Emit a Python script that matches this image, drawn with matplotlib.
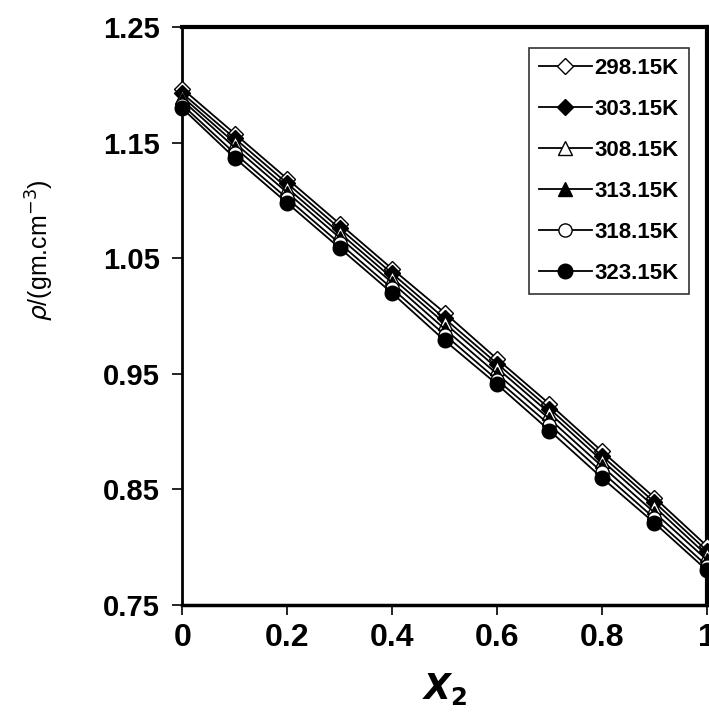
import numpy as np
import matplotlib
matplotlib.use("Agg")
import matplotlib.pyplot as plt

# mole fraction X2
x2 = [0.0, 0.1, 0.2, 0.3, 0.4, 0.5, 0.6, 0.7, 0.8, 0.9, 1.0]

# densities (g/cm3), one list per temperature
rho_29815 = [1.197, 1.158, 1.119, 1.080, 1.041, 1.003, 0.963, 0.924, 0.883, 0.843, 0.801]
rho_30315 = [1.193, 1.154, 1.115, 1.076, 1.037, 0.998, 0.959, 0.920, 0.879, 0.839, 0.797]
rho_30815 = [1.190, 1.150, 1.111, 1.072, 1.033, 0.994, 0.955, 0.916, 0.875, 0.835, 0.793]
rho_31315 = [1.187, 1.146, 1.107, 1.068, 1.029, 0.989, 0.950, 0.911, 0.870, 0.830, 0.789]
rho_31815 = [1.183, 1.141, 1.102, 1.063, 1.024, 0.984, 0.945, 0.906, 0.865, 0.825, 0.784]
rho_32315 = [1.180, 1.137, 1.098, 1.059, 1.020, 0.979, 0.941, 0.901, 0.860, 0.821, 0.780]

labels = ["298.15K", "303.15K", "308.15K", "313.15K", "318.15K", "323.15K"]
series = [rho_29815, rho_30315, rho_30815, rho_31315, rho_31815, rho_32315]

# marker style for each temperature
markers = ["D", "D", "^", "^", "o", "o"]
faces = ["white", "black", "white", "black", "white", "black"]
sizes = [8, 8, 9.5, 9.5, 9.5, 10.5]

plt.rcParams['font.family'] = ['Liberation Sans', 'DejaVu Sans']

fig = plt.figure(figsize=(7.09, 7.21), dpi=100)
ax = fig.add_axes([0.257, 0.161, 0.740, 0.801])

for y, lab, m, fc, ms in zip(series, labels, markers, faces, sizes):
    ax.plot(x2, y, color="black", lw=1.3, marker=m, markersize=ms,
            markerfacecolor=fc, markeredgecolor="black", markeredgewidth=1.0,
            label=lab, clip_on=False, zorder=3)

ax.set_xlim(0, 1)
ax.set_ylim(0.75, 1.25)
ax.set_xticks([0, 0.2, 0.4, 0.6, 0.8, 1.0])
ax.set_xticklabels(["0", "0.2", "0.4", "0.6", "0.8", "1"])
ax.set_yticks([0.75, 0.85, 0.95, 1.05, 1.15, 1.25])
ax.set_yticklabels(["0.75", "0.85", "0.95", "1.05", "1.15", "1.25"])

ax.tick_params(axis="both", direction="out", length=7, width=1.2, color="black")
ax.tick_params(axis="x", labelsize=23, pad=6)
ax.tick_params(axis="y", labelsize=21, pad=9)
for t in ax.get_xticklabels() + ax.get_yticklabels():
    t.set_fontweight("bold")

ax.spines["left"].set_linewidth(2)
ax.spines["bottom"].set_linewidth(2.5)
ax.spines["top"].set_linewidth(3)
ax.spines["right"].set_linewidth(3)

ax.set_xlabel(r"$\mathbfit{X}_\mathbf{2}$", fontsize=25)
ax.xaxis.set_label_coords(0.5, -0.115)
ax.set_ylabel(r"$\rho$/(gm.cm$^{-3}$)", fontsize=18)
ax.yaxis.set_label_coords(-0.24, 0.615)

leg = ax.legend(loc="upper right", bbox_to_anchor=(0.965, 0.965),
                prop={"weight": "bold", "size": 16}, frameon=True, fancybox=False,
                handlelength=2.4, handletextpad=0.1, labelspacing=0.9,
                borderpad=0.45, borderaxespad=0)
leg.get_frame().set_edgecolor("black")
leg.get_frame().set_linewidth(1.2)

fig.savefig("out.png", dpi=100)
